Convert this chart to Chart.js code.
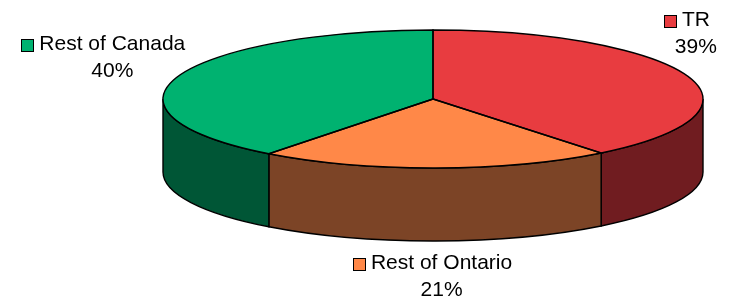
<!DOCTYPE html>
<html>
<head>
<meta charset="utf-8">
<script src="https://cdn.jsdelivr.net/npm/chart.js@4.4.1/dist/chart.umd.min.js"></script>
<style>
html, body { margin: 0; padding: 0; background: #fff; }
#wrap { width: 734px; height: 299px; position: relative; }
</style>
</head>
<body>
<div id="wrap"><canvas id="pie"></canvas></div>
<script>
const labels = ['TR', 'Rest of Ontario', 'Rest of Canada']
const shares = [39.3, 21.1, 39.6]

const topColors = ['#e83c40', '#ff8848', '#00b270']
const sideColors = ['#701c20', '#7c4426', '#005636']

// the ellipse the pie gets squashed into, plus how thick the side is
const pieX = 433, pieY = 99, pieRX = 270, pieRY = 69, pieDepth = 73
// label offset from the middle of each slice's rim
const labelNudge = [[8, -50], [6, 28], [-65, -27]]
const font = '21px "Liberation Sans", Arial, sans-serif'

const pie3d = {
    id: 'pie3d',
    beforeDatasetsDraw(chart) {
        // front walls of the pie, only the part facing the viewer
        const ctx = chart.ctx
        chart.getDatasetMeta(0).data.forEach((arc, i) => {
            [[0, Math.PI], [2 * Math.PI, 3 * Math.PI]].forEach(([lo, hi]) => {
                const s = Math.max(arc.startAngle, lo)
                const e = Math.min(arc.endAngle, hi)
                if (e <= s) return
                ctx.beginPath()
                ctx.ellipse(pieX, pieY, pieRX, pieRY, 0, s, e)
                ctx.ellipse(pieX, pieY + pieDepth, pieRX, pieRY, 0, e, s, true)
                ctx.closePath()
                ctx.fillStyle = sideColors[i]
                ctx.fill()
                ctx.lineWidth = 1.4
                ctx.strokeStyle = '#000'
                ctx.stroke()
            })
        })
    },
    beforeDatasetDraw(chart) {
        const ctx = chart.ctx
        const arc = chart.getDatasetMeta(0).data[0]
        ctx.save()
        ctx.translate(pieX, pieY)
        ctx.scale(pieRX / arc.outerRadius, pieRY / arc.outerRadius)
        ctx.translate(-arc.x, -arc.y)
    },
    afterDatasetDraw(chart) {
        const ctx = chart.ctx
        ctx.restore()
        ctx.lineWidth = 1.4
        ctx.strokeStyle = '#000'
        chart.getDatasetMeta(0).data.forEach(arc => {
            ctx.beginPath()
            ctx.moveTo(pieX, pieY)
            ctx.ellipse(pieX, pieY, pieRX, pieRY, 0, arc.startAngle, arc.endAngle)
            ctx.closePath()
            ctx.stroke()
        })
    },
    afterDraw(chart) {
        const ctx = chart.ctx
        const total = shares.reduce((a, b) => a + b, 0)
        ctx.save()
        ctx.font = font
        ctx.textAlign = 'center'
        ctx.textBaseline = 'alphabetic'
        chart.getDatasetMeta(0).data.forEach((arc, i) => {
            const mid = (arc.startAngle + arc.endAngle) / 2
            let ax = pieX + pieRX * Math.cos(mid)
            let ay = pieY + pieRY * Math.sin(mid)
            if (Math.sin(mid) > 0) ay += pieDepth
            const cx = ax + labelNudge[i][0]
            const base = ay + labelNudge[i][1]
            const w = ctx.measureText(labels[i]).width

            ctx.fillStyle = '#000'
            ctx.fillText(labels[i], cx, base)
            ctx.fillText(Math.round(shares[i] / total * 100) + '%', cx, base + 27)

            // little legend key
            const kx = Math.round(cx - w / 2 - 18) + 0.5
            const ky = Math.round(base - 11) + 0.5
            ctx.fillStyle = topColors[i]
            ctx.fillRect(kx, ky, 12, 12)
            ctx.lineWidth = 1
            ctx.strokeStyle = '#000'
            ctx.strokeRect(kx, ky, 12, 12)
        })
        ctx.restore()
    }
}

new Chart(document.getElementById('pie'), {
    type: 'pie',
    data: {
        labels: labels,
        datasets: [{
            data: shares,
            backgroundColor: topColors,
            borderWidth: 0,
            hoverOffset: 0,
            clip: false
        }]
    },
    options: {
        responsive: true,
        maintainAspectRatio: false,
        animation: false,
        events: [],
        layout: { padding: 0 },
        plugins: {
            legend: { display: false },
            tooltip: { enabled: false }
        }
    },
    plugins: [pie3d]
})
</script>
</body>
</html>
